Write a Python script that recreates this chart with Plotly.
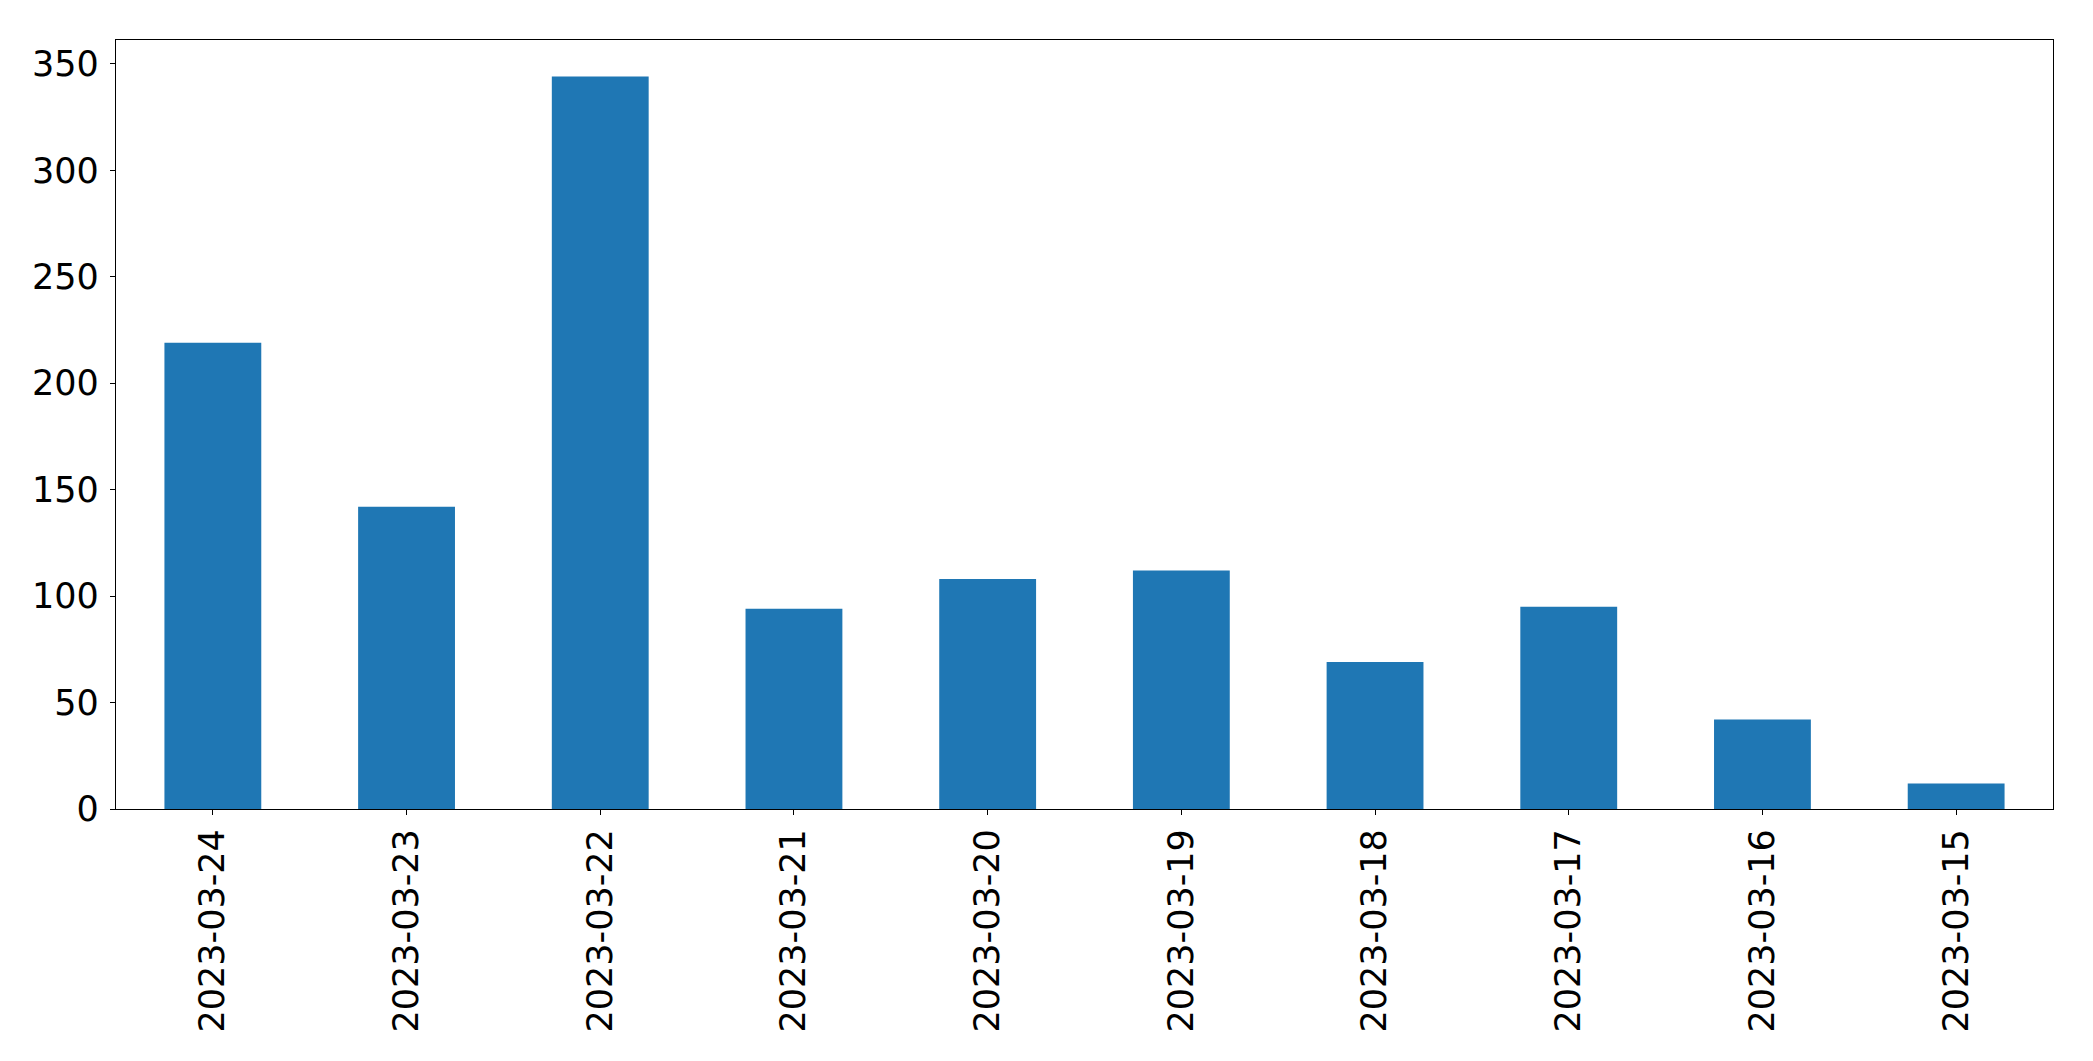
import plotly.graph_objects as go

dates = ["2023-03-24", "2023-03-23", "2023-03-22", "2023-03-21", "2023-03-20",
         "2023-03-19", "2023-03-18", "2023-03-17", "2023-03-16", "2023-03-15"]
counts = [219, 142, 344, 94, 108, 112, 69, 95, 42, 12]
y_ticks = [0, 50, 100, 150, 200, 250, 300, 350]

fig = go.Figure()
fig.add_trace(go.Bar(x=dates, y=counts, marker=dict(color="#1f77b4", line=dict(width=0)),
                     width=0.5))

axis_common = dict(showline=True, linecolor="black", linewidth=1.3, mirror=True,
                   ticks="outside", ticklen=5, tickwidth=1.3, tickcolor="black",
                   showgrid=False, zeroline=False,
                   tickfont=dict(family="DejaVu Sans", size=35, color="black"))

fig.update_layout(
    width=2093, height=1061,
    margin=dict(l=108, r=48, t=32, b=260),
    plot_bgcolor="white", paper_bgcolor="white",
    showlegend=False, bargap=0.5,
    xaxis=dict(type="category", range=[-0.5, len(dates) - 0.5], tickangle=-90,
               ticklabelstandoff=0, **axis_common),
    yaxis=dict(range=[0, max(counts) * 1.05], tickvals=y_ticks,
               ticklabelstandoff=4, **axis_common),
)

fig.write_html("out.html")
